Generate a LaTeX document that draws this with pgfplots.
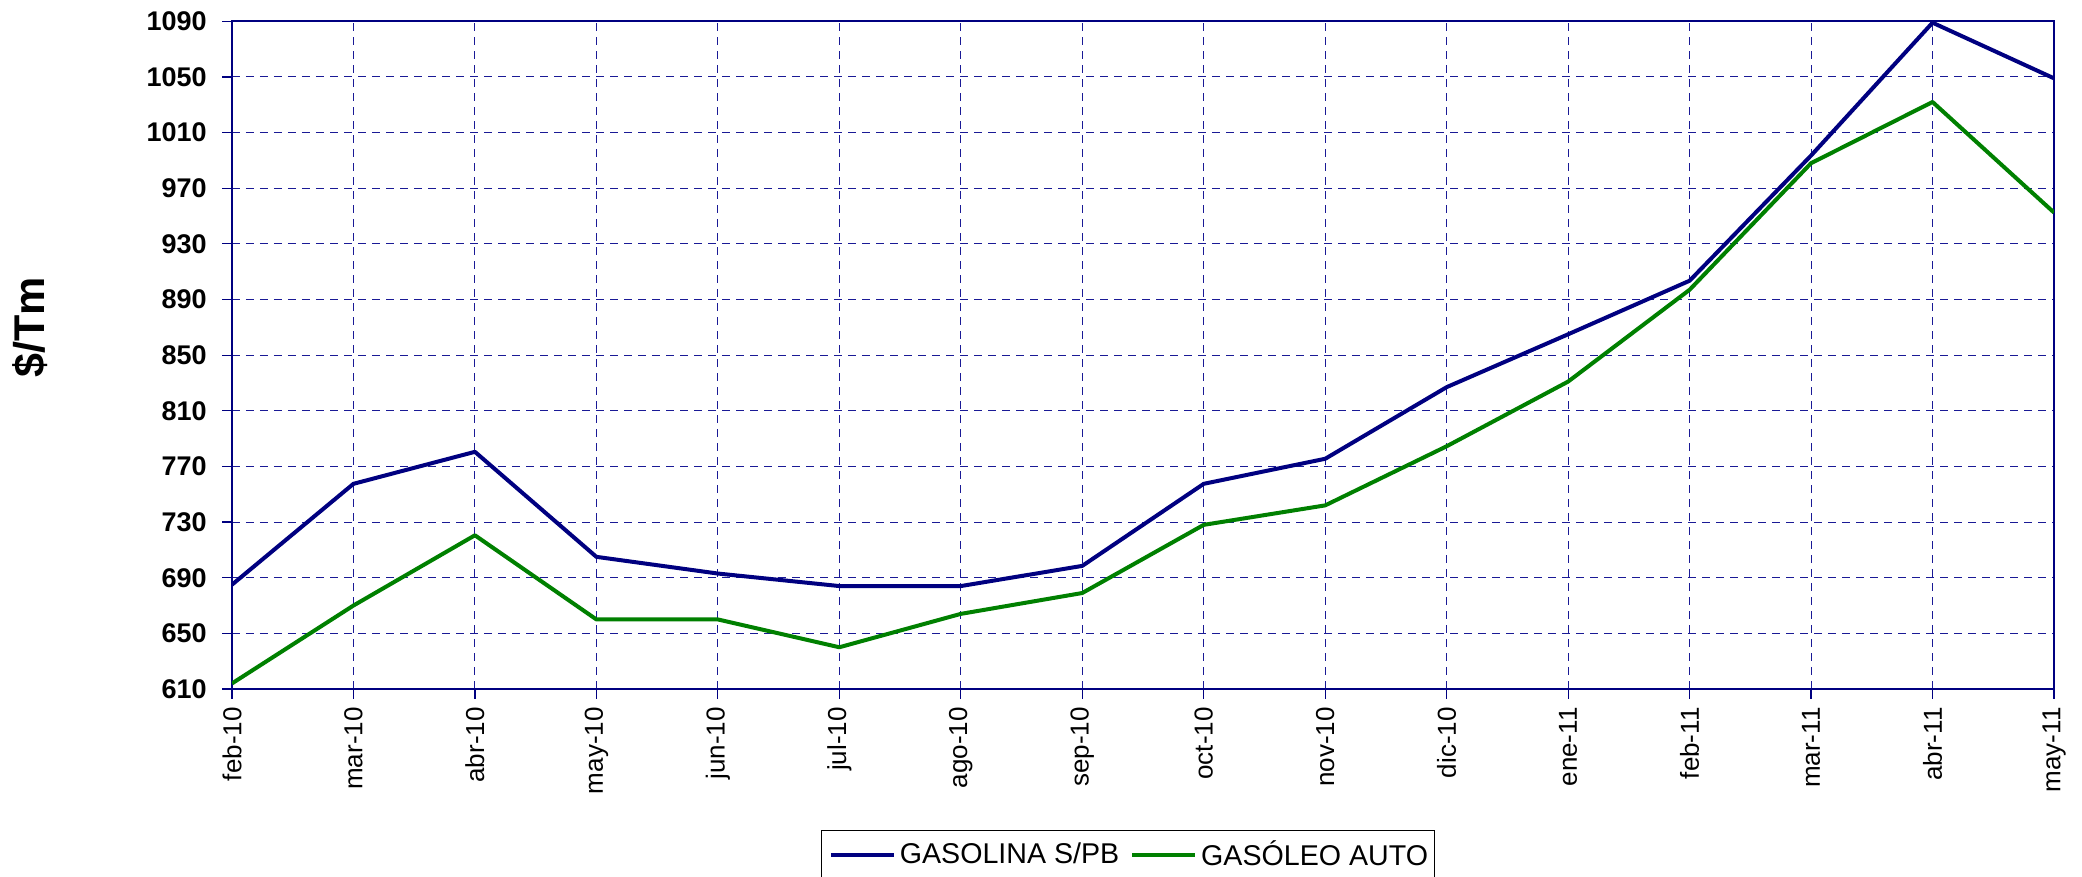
\documentclass[border=0pt]{standalone}
\usepackage{fontspec}
\setmainfont{Liberation Sans}
\usepackage{pgfplots}
\pgfplotsset{compat=1.18}
\definecolor{navyline}{HTML}{000080}
\definecolor{greenline}{HTML}{008000}
\definecolor{gridblue}{HTML}{1A1A96}
\begin{document}
\begin{tikzpicture}
\useasboundingbox (0,0) rectangle (1041pt,438.5pt);
\begin{axis}[
  at={(116pt,94pt)}, anchor=south west,
  scale only axis, width=911pt, height=333.85pt,
  xmin=0, xmax=15, ymin=610, ymax=1090,
  xtick={0,...,15},
  xticklabels={feb-10,mar-10,abr-10,may-10,jun-10,jul-10,ago-10,sep-10,oct-10,nov-10,dic-10,ene-11,feb-11,mar-11,abr-11,may-11},
  ytick={610,650,...,1090},
  xtick pos=bottom, ytick pos=left,
  /pgf/number format/1000 sep={},
  /pgf/number format/assume math mode=true,
  grid=major,
  major grid style={gridblue, dash pattern=on 4pt off 3pt, line width=0.55pt},
  axis line style={navyline, line width=1pt},
  tick style={navyline, line width=0.6pt},
  tick align=outside, major tick length=5pt,
  yticklabel style={font=\fontsize{13.5}{15}\selectfont\bfseries, inner sep=0pt, xshift=-7.5pt},
  xticklabel style={font=\fontsize{13}{15}\selectfont, rotate=90, anchor=east, inner sep=0pt},
  xticklabel shift=4pt,
  ylabel={\$/Tm},
  ylabel style={font=\fontsize{21.5}{24}\selectfont\bfseries, at={(axis description cs:-0.111,0.542)}, anchor=center},
  legend columns=2,
  legend image code/.code={\draw[#1] (0pt,0pt) -- (31.5pt,0pt);},
  legend style={at={(0.492,-0.2105)}, anchor=north, draw=black, line width=0.5pt,
    inner xsep=3.5pt, inner ysep=5.5pt,
    nodes={inner sep=0pt, font=\fontsize{14.3}{16}\selectfont},
    /tikz/every odd column/.append style={column sep=2pt},
    /tikz/every even column/.append style={column sep=5.5pt}},
]
\addplot[navyline, line width=2pt, line join=round] coordinates {
(0,685) (1,757.5) (2,780.5) (3,705) (4,693) (5,684) (6,684) (7,698.5)
(8,757.5) (9,775.5) (10,827) (11,865) (12,903.5) (13,993.5) (14,1089) (15,1049)};
\addlegendentry{\rule[-12pt]{0pt}{12pt}GASOLINA S/PB}
\addplot[greenline, line width=2pt, line join=round] coordinates {
(0,614) (1,670) (2,720.5) (3,660) (4,660) (5,640) (6,664) (7,679)
(8,728) (9,742) (10,784.5) (11,831) (12,897) (13,988) (14,1032) (15,952.5)};
\addlegendentry{\rule[-12pt]{0pt}{12pt}GASÓLEO AUTO}
\end{axis}
\end{tikzpicture}
\end{document}
